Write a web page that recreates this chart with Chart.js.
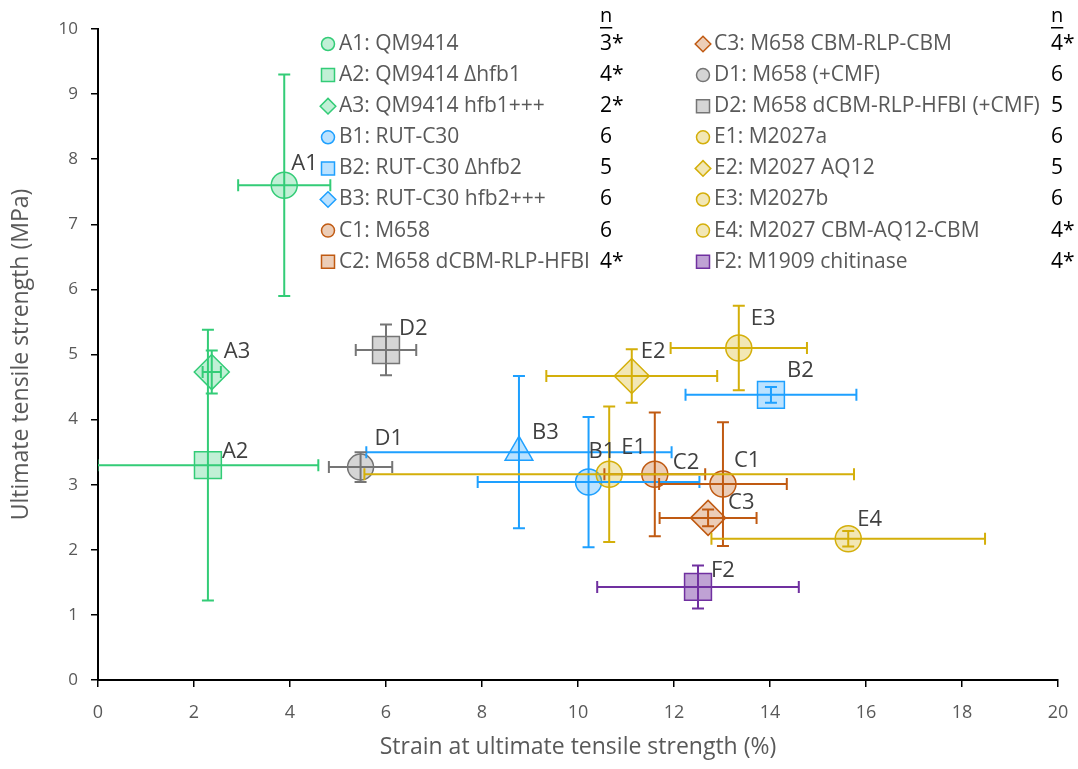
<!DOCTYPE html>
<html>
<head>
<meta charset="utf-8">
<script src="https://cdn.jsdelivr.net/npm/chart.js@4"></script>
<style>
  html, body { margin: 0; padding: 0; background: #fff; }
</style>
</head>
<body>
<canvas id="grafico" width="1078" height="769"></canvas>
<script>
// data
const codes = ['A1', 'A2', 'A3', 'B1', 'B2', 'B3', 'C1', 'C2', 'C3', 'D1', 'D2', 'E1', 'E2', 'E3', 'E4', 'F2'];
const names = ['QM9414', 'QM9414 \u0394hfb1', 'QM9414 hfb1+++', 'RUT-C30', 'RUT-C30 \u0394hfb2', 'RUT-C30 hfb2+++',
  'M658', 'M658 dCBM-RLP-HFBI', 'M658 CBM-RLP-CBM', 'M658 (+CMF)', 'M658 dCBM-RLP-HFBI (+CMF)',
  'M2027a', 'M2027 AQ12', 'M2027b', 'M2027 CBM-AQ12-CBM', 'M1909 chitinase'];
const nVals = ['3*', '4*', '2*', '6', '5', '6', '6', '4*', '4*', '6', '5', '6', '5', '6', '4*', '4*'];
const strain = [3.88, 2.29, 2.37, 10.22, 14.02, 8.77, 13.02, 11.60, 12.71, 5.47, 6.00, 10.65, 11.12, 13.35, 15.63, 12.50];
const strainErr = [0.96, 2.30, 0.19, 2.31, 1.78, 3.18, 1.33, 1.05, 1.01, 0.66, 0.63, 5.10, 1.78, 1.42, 2.85, 2.10];
const uts = [7.60, 3.30, 4.73, 3.04, 4.38, 3.50, 3.01, 3.16, 2.49, 3.27, 5.07, 3.16, 4.67, 5.10, 2.17, 1.43];
const utsErr = [1.70, 2.08, 0.33, 1.00, 0.12, 1.17, 0.95, 0.95, 0.13, 0.23, 0.39, 1.04, 0.41, 0.65, 0.12, 0.33];
const xTicks = [0, 2, 4, 6, 8, 10, 12, 14, 16, 18, 20];
const yTicks = [0, 1, 2, 3, 4, 5, 6, 7, 8, 9, 10];

// styling
const lineCol = { A: '#33cc77', B: '#1ea0ff', C: '#c05a12', D: '#757575', E: '#d4af0a', F: '#7030a0' };
const fillCol = { A: 'rgba(51,204,119,0.3)', B: 'rgba(30,160,255,0.3)', C: 'rgba(192,90,18,0.3)',
  D: 'rgba(150,150,150,0.4)', E: 'rgba(212,175,10,0.3)', F: 'rgba(112,48,160,0.45)' };
const shapes = ['circle', 'rect', 'rectRot', 'circle', 'rect', 'triangle', 'circle', 'circle', 'rectRot',
  'circle', 'rect', 'circle', 'rectRot', 'circle', 'circle', 'rect'];
const legendShapes = ['circle', 'rect', 'rectRot', 'circle', 'rect', 'rectRot', 'circle', 'rect', 'rectRot',
  'circle', 'rect', 'circle', 'rectRot', 'circle', 'circle', 'rect'];
const sizeOf = { circle: 13, rect: 19, rectRot: 17.5, triangle: 16 };
const labelOff = [[7, -22], [14, -13], [12, -20], [0, -30], [16, -24], [13, -19], [11, -23], [18, -12],
  [20, -15], [14, -28], [13, -21], [12, -27], [9, -24], [12, -29], [9, -19], [13, -16]];

const grp = codes.map(c => c[0]);
const fontFam = '"Open Sans", "Noto Sans", sans-serif';

const errorBars = {
  id: 'errorBars',
  afterDatasetsDraw(chart) {
    const { ctx, scales: { x, y } } = chart;
    ctx.save();
    ctx.lineWidth = 2;
    ctx.beginPath();
    ctx.rect(chart.chartArea.left, chart.chartArea.top, chart.chartArea.width, chart.chartArea.height);
    ctx.clip();
    codes.forEach((c, i) => {
      ctx.strokeStyle = lineCol[grp[i]];
      const px = x.getPixelForValue(strain[i]);
      const py = y.getPixelForValue(uts[i]);
      const x0 = x.getPixelForValue(strain[i] - strainErr[i]);
      const x1 = x.getPixelForValue(strain[i] + strainErr[i]);
      const y0 = y.getPixelForValue(uts[i] - utsErr[i]);
      const y1 = y.getPixelForValue(uts[i] + utsErr[i]);
      const cap = 6;
      ctx.beginPath();
      ctx.moveTo(x0, py); ctx.lineTo(x1, py);
      ctx.moveTo(x0, py - cap); ctx.lineTo(x0, py + cap);
      ctx.moveTo(x1, py - cap); ctx.lineTo(x1, py + cap);
      ctx.moveTo(px, y0); ctx.lineTo(px, y1);
      ctx.moveTo(px - cap, y0); ctx.lineTo(px + cap, y0);
      ctx.moveTo(px - cap, y1); ctx.lineTo(px + cap, y1);
      ctx.stroke();
    });
    ctx.restore();

    // point labels
    ctx.save();
    ctx.font = '22px ' + fontFam;
    ctx.fillStyle = '#404040';
    ctx.textBaseline = 'middle';
    codes.forEach((c, i) => {
      const px = x.getPixelForValue(strain[i]);
      const py = y.getPixelForValue(uts[i]);
      ctx.fillText(c, px + labelOff[i][0], py + labelOff[i][1]);
    });
    ctx.restore();
  }
};

function drawMarker(ctx, shape, cx, cy, r) {
  ctx.beginPath();
  if (shape === 'circle') {
    ctx.arc(cx, cy, r, 0, Math.PI * 2);
  } else if (shape === 'rect') {
    ctx.rect(cx - r, cy - r, 2 * r, 2 * r);
  } else {
    ctx.moveTo(cx, cy - r * 1.2); ctx.lineTo(cx + r * 1.2, cy);
    ctx.lineTo(cx, cy + r * 1.2); ctx.lineTo(cx - r * 1.2, cy);
    ctx.closePath();
  }
  ctx.fill();
  ctx.stroke();
}

const legendBox = {
  id: 'legendBox',
  afterDraw(chart) {
    const ctx = chart.ctx;
    const cols = [{ mx: 328, tx: 339, nx: 600 }, { mx: 703, tx: 714, nx: 1051 }];
    const rowY = 44, rowH = 31.1;
    ctx.save();
    ctx.textBaseline = 'middle';
    cols.forEach((col, k) => {
      ctx.font = '20px ' + fontFam;
      ctx.fillStyle = '#000';
      ctx.fillText('n', col.nx, 16);
      const w = ctx.measureText('n').width;
      ctx.fillRect(col.nx, 27, w, 1.5);
      for (let j = 0; j < 8; j++) {
        const i = k * 8 + j;
        const yy = rowY + j * rowH;
        ctx.fillStyle = fillCol[grp[i]];
        ctx.strokeStyle = lineCol[grp[i]];
        ctx.lineWidth = 1.5;
        drawMarker(ctx, legendShapes[i], col.mx, yy, 6.5);
        ctx.font = '21px ' + fontFam;
        ctx.fillStyle = '#595959';
        ctx.fillText(codes[i] + ': ' + names[i], col.tx, yy);
        ctx.font = '21px ' + fontFam;
        ctx.fillStyle = '#000';
        ctx.fillText(nVals[i], col.nx, yy);
      }
    });
    ctx.restore();
  }
};

const ctx = document.getElementById('grafico').getContext('2d');

new Chart(ctx, {
  type: 'scatter',
  data: {
    datasets: [{
      data: codes.map((c, i) => ({ x: strain[i], y: uts[i] })),
      pointStyle: shapes,
      pointRadius: shapes.map(s => sizeOf[s]),
      pointHoverRadius: shapes.map(s => sizeOf[s]),
      backgroundColor: grp.map(g => fillCol[g]),
      borderColor: grp.map(g => lineCol[g]),
      borderWidth: 1.5
    }]
  },
  options: {
    responsive: false,
    animation: false,
    devicePixelRatio: 1,
    layout: { autoPadding: false, padding: { top: 29, right: 20, left: 0, bottom: 0 } },
    plugins: {
      legend: { display: false },
      tooltip: { enabled: false }
    },
    scales: {
      x: {
        type: 'linear',
        min: 0, max: 20,
        afterBuildTicks: s => { s.ticks = xTicks.map(v => ({ value: v })); },
        afterFit: s => { s.height = 89; s.paddingLeft = 0; s.paddingRight = 0; },
        grid: { drawOnChartArea: false, tickLength: 7, color: '#000', lineWidth: 1.5 },
        border: { color: '#000', width: 2 },
        ticks: { color: '#595959', font: { size: 18, family: fontFam }, padding: 15, autoSkip: false, maxRotation: 0 },
        title: {
          display: true, text: 'Strain at ultimate tensile strength (%)',
          color: '#595959', font: { size: 23, family: fontFam }, padding: { top: 4, bottom: 8 }
        }
      },
      y: {
        type: 'linear',
        min: 0, max: 10,
        afterBuildTicks: s => { s.ticks = yTicks.map(v => ({ value: v })); },
        afterFit: s => { s.width = 98; s.paddingTop = 0; s.paddingBottom = 0; },
        grid: { drawOnChartArea: false, tickLength: 7, color: '#000', lineWidth: 1.5 },
        border: { color: '#000', width: 2 },
        ticks: { color: '#595959', font: { size: 17, family: fontFam }, padding: 13, autoSkip: false },
        title: {
          display: true, text: 'Ultimate tensile strength (MPa)',
          color: '#595959', font: { size: 23, family: fontFam }, padding: { top: 8, bottom: 4 }
        }
      }
    }
  },
  plugins: [errorBars, legendBox]
});
</script>
</body>
</html>
